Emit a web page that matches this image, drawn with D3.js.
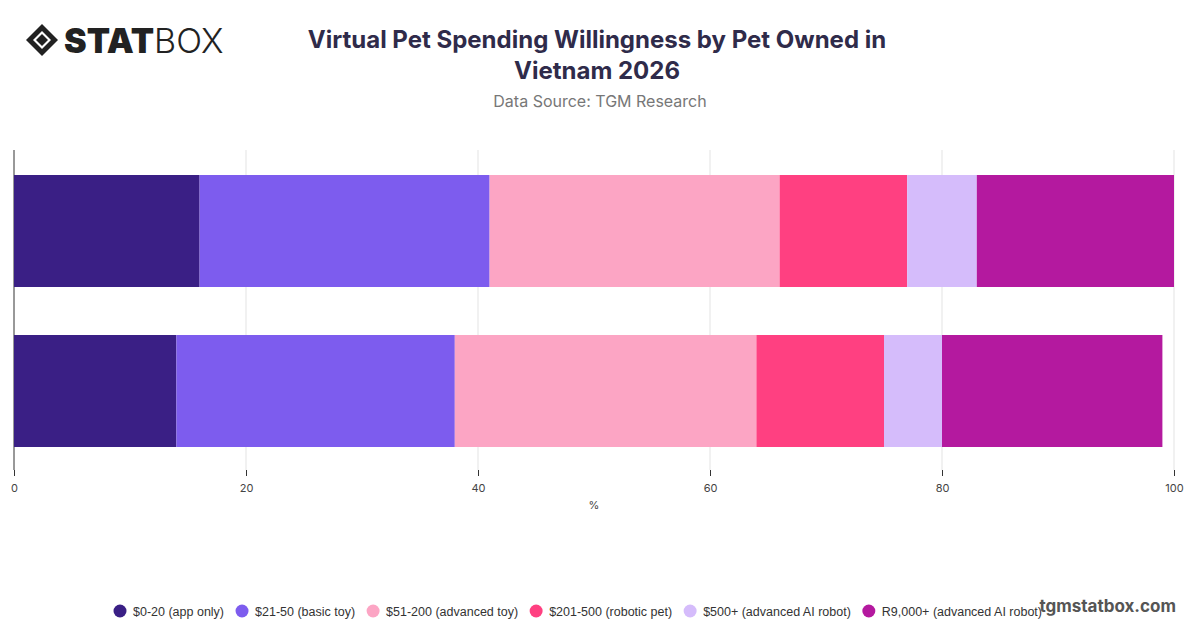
<!DOCTYPE html>
<html><head><meta charset="utf-8">
<script src="https://cdn.jsdelivr.net/npm/d3@7"></script>
<style>body{margin:0;background:#fff;font-family:Inter,"Noto Sans",sans-serif}</style>
</head><body>
<svg width="1200" height="628"></svg>
<script>
// data
const groups = ['Group A', 'Group B'];
const seriesNames = ['$0-20 (app only)', '$21-50 (basic toy)', '$51-200 (advanced toy)', '$201-500 (robotic pet)', '$500+ (advanced AI robot)', 'R9,000+ (advanced AI robot)'];
const colors = ['#3a1f85', '#7d5cee', '#fca5c4', '#ff4081', '#d5bcfb', '#b4199f'];
const valuesA = [16, 25, 25, 11, 6, 17];
const valuesB = [14, 24, 26, 11, 5, 19];
const xTicks = [0, 20, 40, 60, 80, 100];

const svg = d3.select('svg');

// logo
const logo = svg.append('g').attr('transform', 'translate(26,24)');
logo.append('path').attr('d', 'M16,0 L32,16 L16,32 L0,16Z').attr('fill', '#222');
logo.append('path').attr('d', 'M16,7 L25,16 L16,25 L7,16Z').attr('fill', '#fff');
logo.append('path').attr('d', 'M16,10 L22,16 L16,22 L10,16Z').attr('fill', '#222');
logo.append('text').attr('x', 38).attr('y', 29).attr('font-size', 34).attr('font-weight', 900)
  .attr('fill', '#222').attr('font-family', 'Inter').text('STAT')
  .append('tspan').attr('font-weight', 300).text('BOX');

svg.append('text').attr('x', 597).attr('y', 48).attr('text-anchor', 'middle')
  .attr('font-size', 24).attr('font-weight', 700).attr('fill', '#2f2b4a').text('Virtual Pet Spending Willingness by Pet Owned in');
svg.append('text').attr('x', 597).attr('y', 79).attr('text-anchor', 'middle')
  .attr('font-size', 24).attr('font-weight', 700).attr('fill', '#2f2b4a').text('Vietnam 2026');
svg.append('text').attr('x', 600).attr('y', 107).attr('text-anchor', 'middle')
  .attr('font-size', 16).attr('fill', '#777').text('Data Source: TGM Research');

const x = d3.scaleLinear().domain([0, 100]).range([14, 1174]);
const y = d3.scaleBand().domain(groups).range([150, 470]).paddingInner(0.3).paddingOuter(0.15);

// grid
svg.append('g').selectAll('line').data(xTicks.slice(1)).join('line')
  .attr('x1', d => x(d)).attr('x2', d => x(d)).attr('y1', 150).attr('y2', 470)
  .attr('stroke', '#e3e3e3');
svg.append('line').attr('x1', x(0)).attr('x2', x(0)).attr('y1', 150).attr('y2', 470).attr('stroke', '#333');

const stackData = groups.map((g, i) => {
  const vals = i === 0 ? valuesA : valuesB;
  const o = { group: g };
  seriesNames.forEach((s, j) => o[s] = vals[j]);
  return o;
});
const stacked = d3.stack().keys(seriesNames)(stackData);
svg.append('g').selectAll('g').data(stacked).join('g')
  .attr('fill', (d, i) => colors[i])
  .selectAll('rect').data(d => d).join('rect')
  .attr('x', d => x(d[0])).attr('width', d => x(d[1]) - x(d[0]))
  .attr('y', d => y(d.data.group) + 1).attr('height', y.bandwidth());

const ax = svg.append('g').attr('transform', 'translate(0,470)')
  .call(d3.axisBottom(x).tickValues(xTicks).tickSize(6).tickPadding(8));
ax.select('.domain').remove();
ax.selectAll('line').attr('stroke', '#333');
ax.selectAll('text').attr('font-size', 11).attr('fill', '#444').attr('font-family', 'Inter');
svg.append('text').attr('x', 594).attr('y', 509).attr('text-anchor', 'middle')
  .attr('font-size', 11).attr('fill', '#444').text('%');

// legend, laid out one after another
const leg = svg.append('g').selectAll('g').data(seriesNames).join('g');
leg.append('circle').attr('r', 6.5).attr('fill', (d, i) => colors[i]);
leg.append('text').attr('x', 13).attr('y', 4.5).attr('font-size', 12.5)
  .attr('font-family', '"Liberation Sans",sans-serif')
  .attr('fill', '#333').text(d => d);
let cx = 120;
leg.each(function() {
  const w = d3.select(this).select('text').node().getComputedTextLength();
  d3.select(this).attr('transform', `translate(${cx},611)`);
  cx += 13 + w + 18;
});

svg.append('text').attr('x', 1176).attr('y', 612).attr('text-anchor', 'end')
  .attr('font-size', 17).attr('font-weight', 700).attr('fill', '#555').text('tgmstatbox.com');
</script>
</body></html>
